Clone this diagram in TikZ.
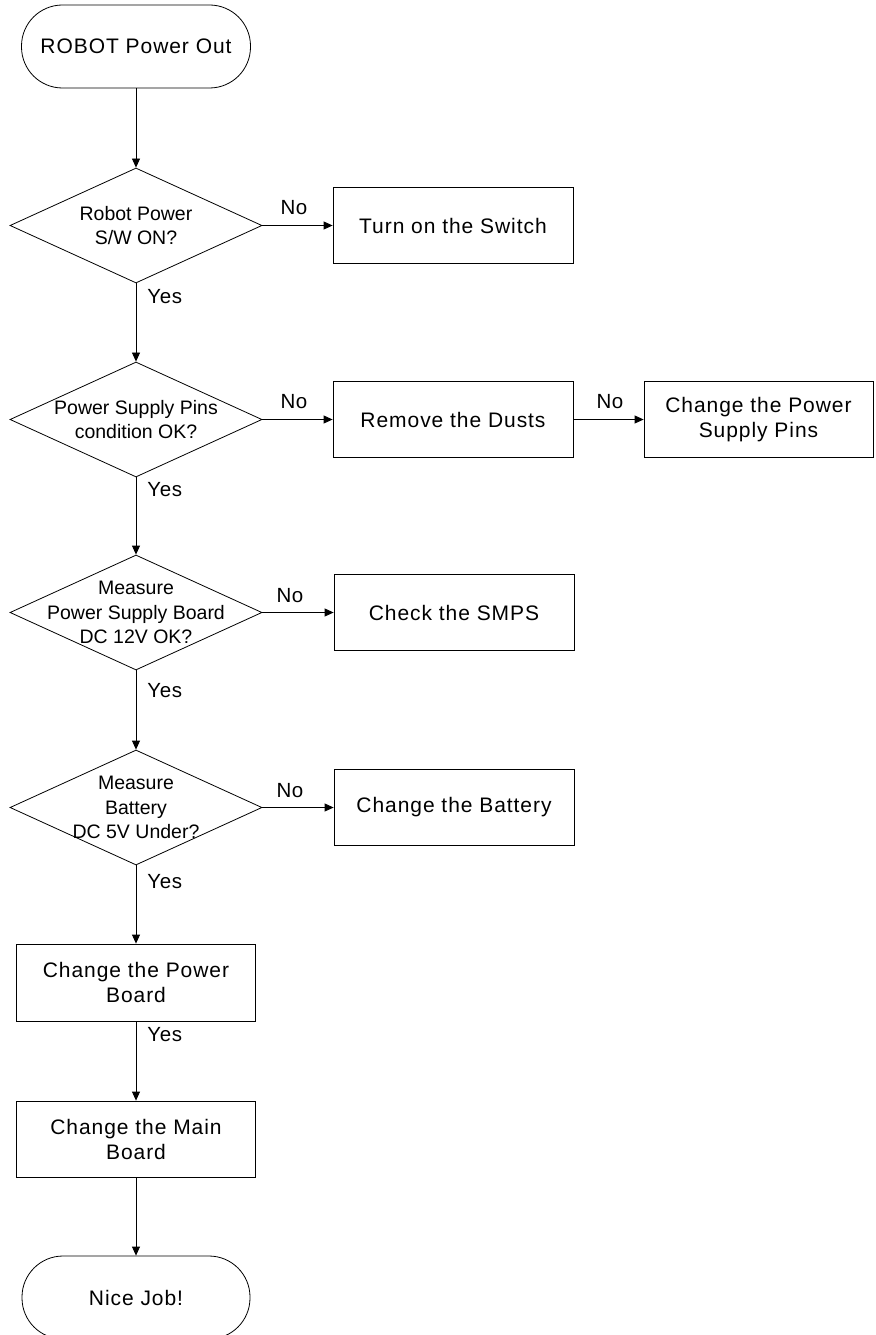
\documentclass[tikz,border=0pt]{standalone}
\usepackage{fontspec}
\setmainfont{Liberation Sans}
\usetikzlibrary{shapes.geometric,arrows.meta}
\begin{document}
\begin{tikzpicture}[x=1pt,y=-1pt,
  every node/.style={font=\fontsize{21}{25}\selectfont\addfontfeatures{LetterSpace=4.5}},
  term/.style={draw, rounded corners=41pt, minimum width=229pt, minimum height=83pt, inner sep=0pt, align=center},
  proc/.style={draw, minimum width=240pt, minimum height=76pt, inner sep=0pt, align=center},
  dia/.style={draw, diamond, minimum width=252pt, minimum height=115pt, inner sep=0pt},
  dtxt/.style={align=center, font=\fontsize{19.5}{24.5}\selectfont},
  lbl/.style={font=\fontsize{20.5}{24}\selectfont\addfontfeatures{LetterSpace=3}, inner sep=0pt},
  arr/.style={-{Triangle[length=9pt,width=8pt]}},
  line width=0.8pt]
\useasboundingbox (0,0) rectangle (875,1335);
% nodes
\node[term] (start) at (136,46.5) {ROBOT Power Out};
\node[dia, label={[dtxt]center:Robot Power\\S/W ON?}] (d1) at (136,225.5) {};
\node[proc] (sw) at (453,225.5) {Turn on the Switch};
\node[dia, label={[dtxt]center:Power Supply Pins\\condition OK?}] (d2) at (136,419.5) {};
\node[proc] (dust) at (453,419.5) {Remove the Dusts};
\node[proc, minimum width=229pt] (pins) at (758.5,419.5) {Change the Power\\Supply Pins};
\node[dia, label={[dtxt]center:Measure\\Power Supply Board\\DC 12V OK?}] (d3) at (136,612.5) {};
\node[proc] (smps) at (454,612.5) {Check the SMPS};
\node[dia, label={[dtxt]center:Measure\\Battery\\DC 5V Under?}] (d4) at (136,807.5) {};
\node[proc] (bat) at (454,807.5) {Change the Battery};
\node[proc, minimum width=239pt, minimum height=77pt] (pb) at (136,982.5) {Change the Power\\Board};
\node[proc, minimum width=239pt] (mb) at (136,1139) {Change the Main\\Board};
\node[term, minimum width=228pt] (end) at (136,1297.5) {Nice Job!};
% connectors
\draw[arr] (start) -- (d1);
\draw[arr] (d1) -- (d2);
\draw[arr] (d2) -- (d3);
\draw[arr] (d3) -- (d4);
\draw[arr] (d4) -- (pb);
\draw[arr] (pb) -- (mb);
\draw[arr] (mb) -- (end);
\draw[arr] (d1.east) -- (sw.west);
\draw[arr] (d2.east) -- (dust.west);
\draw[arr] (dust.east) -- (pins.west);
\draw[arr] (d3.east) -- (smps.west);
\draw[arr] (d4.east) -- (bat.west);
% labels
\node[lbl] (n1) at (294,208) {No};
\node[lbl] (n2) at (294,402) {No};
\node[lbl] (n3) at (610,402) {No};
\node[lbl] (n4) at (290,596) {No};
\node[lbl] (n5) at (290,791) {No};
\node[lbl, anchor=west] (y1) at (147,297) {Yes};
\node[lbl, anchor=west] (y2) at (147,490) {Yes};
\node[lbl, anchor=west] (y3) at (147,691) {Yes};
\node[lbl, anchor=west] (y4) at (147,882) {Yes};
\node[lbl, anchor=west] (y5) at (147,1035) {Yes};
\end{tikzpicture}
\end{document}
